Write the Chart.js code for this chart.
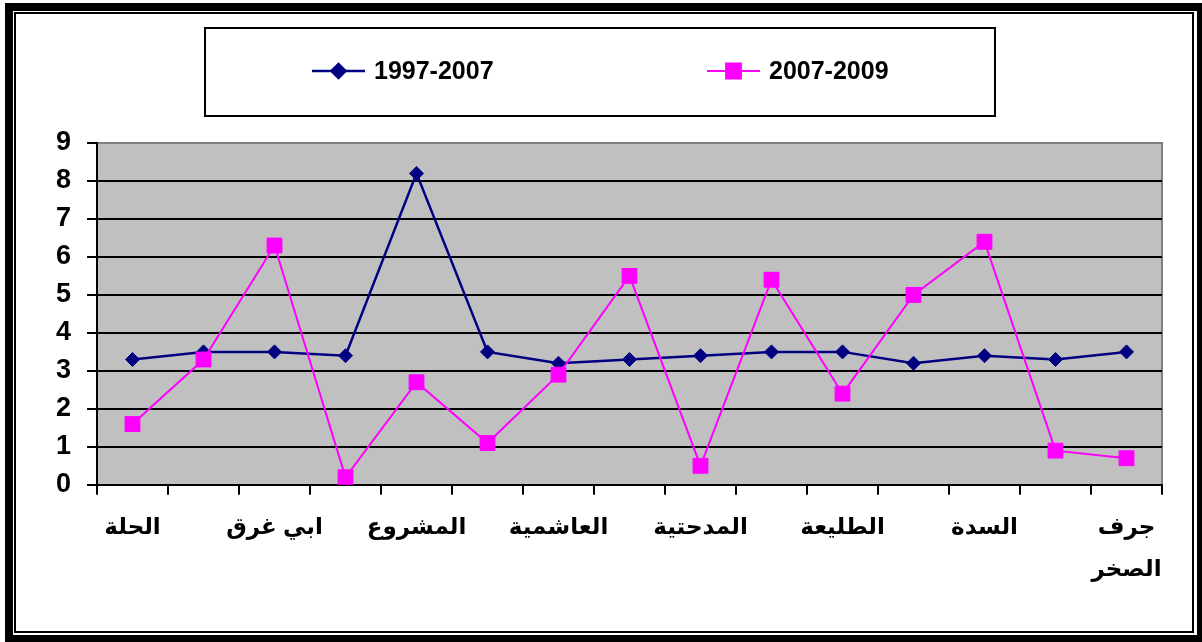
<!DOCTYPE html>
<html>
<head>
<meta charset="utf-8">
<script src="https://cdn.jsdelivr.net/npm/chart.js@4/dist/chart.umd.min.js"></script>
<style>
  html, body { margin: 0; padding: 0; background: #fff; width: 1202px; height: 642px; overflow: hidden; }
  #outer { position: absolute; left: 5px; top: 3px; width: 1184px; height: 624px; border: 8px solid #000; }
  #inner { position: absolute; left: 14px; top: 12px; width: 1176px; height: 617px; border: 2px solid #000; }
  #c { position: absolute; left: 0; top: 0; }
</style>
</head>
<body>
<div id="outer"></div>
<div id="inner"></div>
<canvas id="c" width="1202" height="642"></canvas>
<script>
// ---- data ----
const categories = ['الحلة', '', 'ابي غرق', '', 'المشروع', '', 'العاشمية', '', 'المدحتية', '', 'الطليعة', '', 'السدة', '', ['جرف', 'الصخر']];
const seriesNames = ['1997-2007', '2007-2009'];
const values19972007 = [3.3, 3.5, 3.5, 3.4, 8.2, 3.5, 3.2, 3.3, 3.4, 3.5, 3.5, 3.2, 3.4, 3.3, 3.5];
const values20072009 = [1.6, 3.3, 6.3, 0.2, 2.7, 1.1, 2.9, 5.5, 0.5, 5.4, 2.4, 5.0, 6.4, 0.9, 0.7];
const yTicks = [0, 1, 2, 3, 4, 5, 6, 7, 8, 9];

const FONT = 'Arial, "Liberation Sans", "DejaVu Sans", sans-serif';

const plotBg = {
  id: 'plotBg',
  beforeDraw(chart) {
    const {ctx, chartArea: a} = chart;
    ctx.save();
    ctx.fillStyle = '#C0C0C0';
    ctx.fillRect(a.left, a.top, a.right - a.left, a.bottom - a.top);
    ctx.strokeStyle = '#808080';
    ctx.lineWidth = 2;
    ctx.beginPath();
    ctx.moveTo(a.left, a.top);
    ctx.lineTo(a.right, a.top);
    ctx.lineTo(a.right, a.bottom);
    ctx.stroke();
    ctx.restore();
  }
};

const excelLegend = {
  id: 'excelLegend',
  afterDraw(chart, args, opts) {
    const ctx = chart.ctx;
    ctx.save();
    ctx.strokeStyle = '#000';
    ctx.lineWidth = 2;
    ctx.strokeRect(opts.box[0], opts.box[1], opts.box[2], opts.box[3]);
    chart.data.datasets.forEach((ds, i) => {
      const x0 = opts.itemX[i];
      const y = opts.y;
      ctx.strokeStyle = ds.borderColor;
      ctx.lineWidth = ds.borderWidth;
      ctx.beginPath();
      ctx.moveTo(x0, y);
      ctx.lineTo(x0 + opts.lineLen, y);
      ctx.stroke();
      ctx.fillStyle = ds.pointBackgroundColor;
      ctx.strokeStyle = ds.pointBorderColor;
      Chart.helpers.drawPoint(ctx, {pointStyle: ds.pointStyle, radius: ds.pointRadius, rotation: 0, borderWidth: 1}, x0 + opts.lineLen / 2, y);
      ctx.fillStyle = '#000';
      ctx.font = 'bold 25px ' + FONT;
      ctx.textBaseline = 'middle';
      ctx.textAlign = 'left';
      ctx.fillText(ds.label, x0 + opts.lineLen + 9, y + 1);
    });
    ctx.restore();
  }
};

new Chart(document.getElementById('c'), {
  type: 'line',
  data: {
    labels: categories,
    datasets: [
      {
        label: seriesNames[0],
        data: values19972007,
        borderColor: '#000080',
        backgroundColor: '#000080',
        borderWidth: 2.5,
        pointStyle: 'rectRot',
        pointRadius: 7,
        pointHoverRadius: 7,
        pointBackgroundColor: '#000080',
        pointBorderColor: '#000080',
        pointBorderWidth: 1,
        tension: 0,
        order: 1
      },
      {
        label: seriesNames[1],
        data: values20072009,
        borderColor: '#FF00FF',
        backgroundColor: '#FF00FF',
        borderWidth: 2,
        pointStyle: 'rect',
        pointRadius: 10.5,
        pointHoverRadius: 10.5,
        pointBackgroundColor: '#FF00FF',
        pointBorderColor: '#FF00FF',
        pointBorderWidth: 1,
        tension: 0,
        order: 0
      }
    ]
  },
  options: {
    responsive: false,
    animation: false,
    events: [],
    layout: { padding: { left: 40, right: 40, top: 143, bottom: 39 } },
    plugins: {
      legend: { display: false },
      tooltip: { enabled: false },
      excelLegend: { box: [205, 28, 790, 88], itemX: [312, 707], lineLen: 53, y: 71 }
    },
    scales: {
      x: {
        offset: true,
        grid: { offset: true, drawOnChartArea: false, drawTicks: true, tickLength: 10, color: '#000', lineWidth: 2 },
        border: { display: true, color: '#000', width: 2 },
        ticks: {
          autoSkip: false, maxRotation: 0, minRotation: 0, padding: 12,
          color: '#000',
          font: { family: FONT, size: 23, weight: 'bold', lineHeight: 1.83 }
        }
      },
      y: {
        min: 0, max: 9,
        afterBuildTicks(scale) { scale.ticks = yTicks.map(v => ({ value: v })); },
        grid: {
          color: c => (c.tick && c.tick.value === 9 ? '#808080' : '#000'),
          tickColor: '#000',
          lineWidth: 2, tickLength: 10, drawTicks: true
        },
        border: { display: true, color: '#000', width: 2 },
        ticks: {
          padding: 16, color: '#000',
          font: { family: FONT, size: 27, weight: 'bold' }
        }
      }
    }
  },
  plugins: [plotBg, excelLegend]
});
</script>
</body>
</html>
